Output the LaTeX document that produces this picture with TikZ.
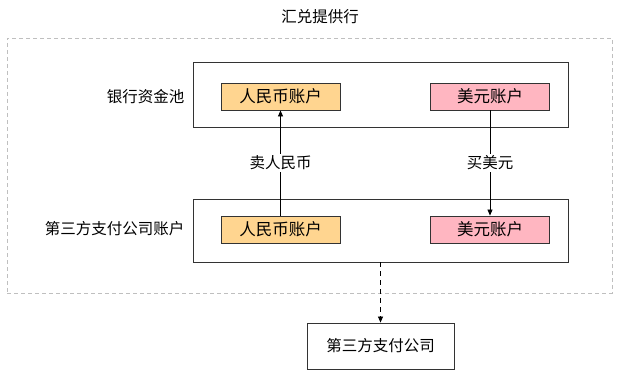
\documentclass[tikz,border=0pt]{standalone}
\usepackage{fontspec}
\setmainfont{Noto Sans CJK SC}
\usetikzlibrary{arrows.meta}
\definecolor{rmb}{HTML}{FFD590}
\definecolor{usd}{HTML}{FFB6C1}
\definecolor{edge}{HTML}{333333}
\begin{document}
\begin{tikzpicture}[x=1pt,y=-1pt,
  every node/.style={font=\fontsize{15.5}{17}\selectfont, text=black},
  acct/.style={draw=edge, line width=0.9pt, minimum width=119pt, minimum height=27pt, inner sep=0pt, font=\fontsize{16.5}{18}\selectfont},
  grp/.style={draw=edge, line width=0.9pt, minimum width=375pt, inner sep=0pt},
  arr/.style={-{Triangle[length=6pt,width=5pt]}, line width=0.7pt, draw=black},
  lbl/.style={fill=white, inner sep=2pt}]
\useasboundingbox (0,0) rectangle (626,388);
\node[draw=gray!50, dash pattern=on 4pt off 3pt, line width=0.8pt, minimum width=605pt, minimum height=255pt, inner sep=0pt] (outer) at (309.5,165.5) {};
\node (title) at (320,17) {汇兑提供行};
\node[grp, minimum height=65pt] (bank) at (380.5,94.5) {};
\node[grp, minimum height=63pt] (third) at (380.5,230.5) {};
\node[anchor=east] (banklbl) at (188,97) {银行资金池};
\node[anchor=east] (thirdlbl) at (188,229) {第三方支付公司账户};
\node[acct, fill=rmb] (rmbtop) at (280.5,96.5) {人民币账户};
\node[acct, fill=usd] (usdtop) at (490,96.5) {美元账户};
\node[acct, fill=rmb] (rmbbot) at (280.5,229.5) {人民币账户};
\node[acct, fill=usd] (usdbot) at (490,229.5) {美元账户};
\node[draw=edge, line width=0.9pt, minimum width=147pt, minimum height=46pt, inner sep=0pt] (company) at (380.5,346) {第三方支付公司};
\draw[arr] (rmbbot.north) -- node[lbl] {卖人民币} (rmbtop.south);
\draw[arr] (usdtop.south) -- node[lbl] {买美元} (usdbot.north);
\draw[arr, dash pattern=on 5pt off 4pt] (third.south) -- (company.north);
\end{tikzpicture}
\end{document}
